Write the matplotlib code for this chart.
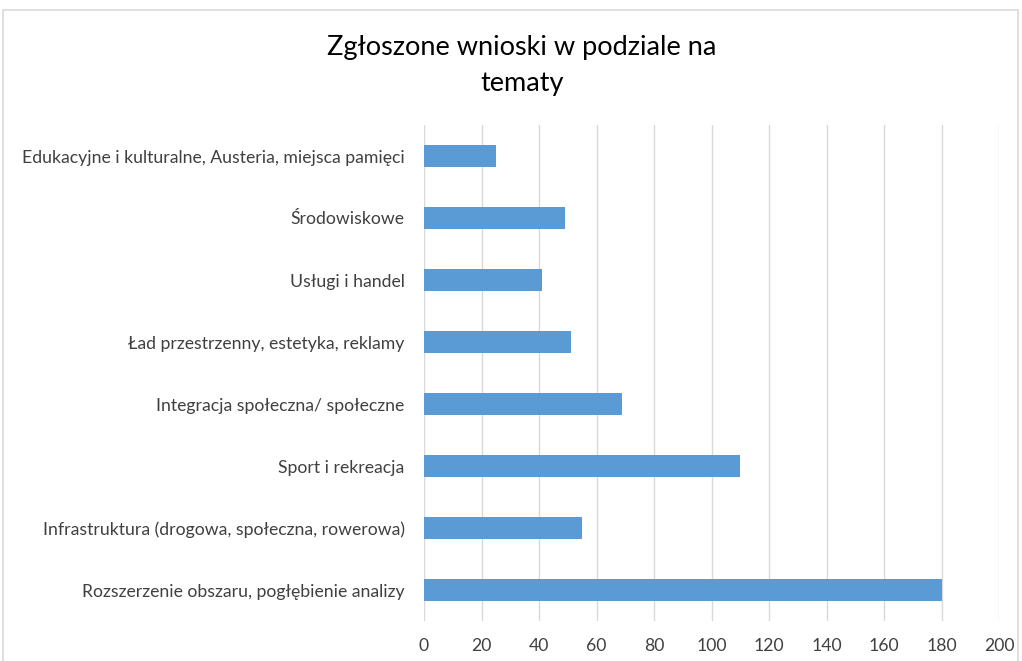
import matplotlib.pyplot as plt
from matplotlib.patches import Rectangle

categories = [
    "Edukacyjne i kulturalne, Austeria, miejsca pamięci",
    "Środowiskowe",
    "Usługi i handel",
    "Ład przestrzenny, estetyka, reklamy",
    "Integracja społeczna/ społeczne",
    "Sport i rekreacja",
    "Infrastruktura (drogowa, społeczna, rowerowa)",
    "Rozszerzenie obszaru, pogłębienie analizy",
]
values = [25, 49, 41, 51, 69, 110, 55, 180]
xticks = list(range(0, 201, 20))

plt.rcParams['font.family'] = ['Lato', 'DejaVu Sans']

fig = plt.figure(figsize=(10.22, 6.61), dpi=100)
ax = fig.add_axes([424 / 1022, 1 - 621 / 661, 575 / 1022, 496 / 661])

# chart border (cropped on the bottom in the original)
fig.patches.append(Rectangle((3 / 1022, -0.05), 1015 / 1022, 1.05 - 10 / 661,
                             transform=fig.transFigure, fill=False,
                             edgecolor='#d9d9d9', linewidth=1.2))

ypos = list(range(len(categories)))[::-1]
ax.barh(ypos, values, height=0.35, color='#5b9bd5', zorder=3)

ax.set_xlim(0, 200)
ax.set_ylim(-0.5, len(categories) - 0.5)
ax.set_xticks(xticks)
ax.set_yticks(ypos)
ax.set_yticklabels(categories)
ax.tick_params(length=0, labelsize=12.7, colors='#404040')
ax.tick_params(axis='x', pad=12)
ax.tick_params(axis='y', pad=14)
ax.grid(axis='x', color='#d9d9d9', linewidth=1, zorder=0)
for s in ax.spines.values():
    s.set_visible(False)

fig.text(522 / 1022, 1 - 48 / 661, "Zgłoszone wnioski w podziale na", ha='center',
         va='center', fontsize=19.5, color='#000000')
fig.text(522 / 1022, 1 - 84 / 661, "tematy", ha='center', va='center',
         fontsize=19.5, color='#000000')

fig.savefig('out.png', dpi=100)
